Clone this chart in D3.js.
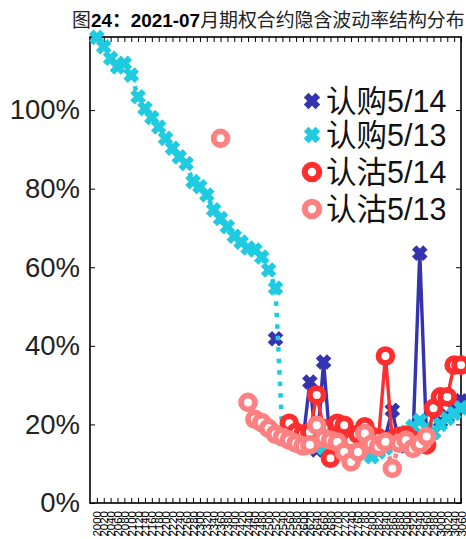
<!DOCTYPE html>
<html><head><meta charset="utf-8">
<script src="https://cdn.jsdelivr.net/npm/d3@7"></script>
<style>body{margin:0;background:#fff} svg{display:block}</style>
</head><body><svg id="c" width="466" height="539"></svg>
<script>
const categories = ["2000","2020","2040","2060","2080","2100","2120","2140","2160","2180",
  "2200","2220","2240","2260","2280","2300","2320","2340","2360","2380",
  "2400","2420","2440","2460","2480","2500","2520","2540","2560","2580",
  "2600","2620","2640","2660","2680","2700","2720","2740","2760","2780",
  "2800","2820","2840","2860","2880","2900","2920","2940","2960","2980",
  "3000","3020","3040","3060"];

const callIV0514 = [null,null,null,null,null,null,null,null,null,null,
  null,null,null,null,null,null,null,null,null,null,
  null,null,null,null,null,null,41.8,null,null,null,
  16,30.8,13.5,35.9,14,15,14.5,15.5,15,14.5,
  15.5,16,17,23.6,15,14.5,16,63.6,16,18,
  20.7,22,24,26];

const callIV0513 = [118.5,116.1,113.2,111.0,111.9,108.9,103.4,100.4,98.1,95.7,
  92.8,90.3,88.1,86.4,81.8,80.5,78.4,74.6,72.4,70.3,
  67.9,66.4,64.9,64.4,62.6,59.3,54.7,17.5,16.5,15.5,
  15,15,14.5,14,14,14,13.5,13,13,12.5,
  11.8,13,14,15,16.5,18,19.5,21,19,18,
  20,21.5,22.8,24.2];

const putIV0514 = [null,null,null,null,null,null,null,null,null,null,
  null,null,null,null,null,null,null,null,null,null,
  null,null,null,null,null,null,null,null,20.3,18,
  17.5,18,27.5,19,11.4,20.3,19.8,16,17.5,19.4,
  17,16.5,37.4,16,17,17.3,16,15.5,14.8,24.1,
  27,27,35.1,35.1];

const putIV0513 = [null,null,null,null,null,null,null,null,null,null,
  null,null,null,null,null,null,null,null,92.8,null,
  null,null,25.6,21.3,20.5,19,17.5,16.8,16,15.2,
  14.5,14.8,19.8,16.5,16,15.5,13,10.5,13,17.7,
  15,14.3,15.6,8.8,15.2,16,13.9,15,16.9,null,
  null,null,null,null];

const yTicks = [0,20,40,60,80,100];
const seriesNames = ["认购5/14","认购5/13","认沽5/14","认沽5/13"];
const seriesData = [callIV0514, callIV0513, putIV0514, putIV0513];
const titleParts = ["图", "24：2021-07", "月期权合约隐含波动率结构分布"];

const styles = [
  {color:"#3434ae", marker:"x", dash:null},
  {color:"#1ecbe1", marker:"x", dash:"4.5 7"},
  {color:"#ff2d2d", marker:"o", dash:null},
  {color:"#ff8080", marker:"o", dash:"4.5 7"}
];

const svg = d3.select("#c");
svg.append("rect").attr("width",466).attr("height",539).attr("fill","#fff");

const L = 90, R = 461, T = 37, B = 503;
const x = d3.scaleLinear().domain([0, categories.length]).range([L, R]);
const y = d3.scaleLinear().domain([0, 118.6]).range([B, T]);
const idx = d3.range(1, categories.length + 1);

// title
const title = svg.append("text").attr("x", 72).attr("y", 27)
  .attr("font-family", "'Liberation Sans','Noto Sans CJK SC',sans-serif")
  .attr("font-size", 18.9).attr("fill", "#222");
title.append("tspan").text(titleParts[0]);
title.append("tspan").attr("font-weight", "bold").attr("fill","#000").text(titleParts[1]);
title.append("tspan").text(titleParts[2]);

// axes
const axisFont = "'Liberation Sans',Arial,sans-serif";
const gl = svg.append("g").attr("transform", `translate(${L},0)`)
  .call(d3.axisLeft(y).tickValues(yTicks).tickSize(-5).tickPadding(10).tickFormat(d => d + "%"));
gl.select(".domain").remove();
gl.selectAll("text").attr("font-size", 27.5).attr("font-family", axisFont).attr("fill", "#222");

const gr = svg.append("g").attr("transform", `translate(${R},0)`)
  .call(d3.axisRight(y).tickValues(yTicks).tickSize(-5).tickFormat(""));
gr.select(".domain").remove();

const gt = svg.append("g").attr("transform", `translate(0,${T})`)
  .call(d3.axisTop(x).tickValues(idx).tickSize(-5).tickFormat(""));
gt.select(".domain").remove();

const gb = svg.append("g").attr("transform", `translate(0,${B})`)
  .call(d3.axisBottom(x).tickValues(idx).tickSize(-5).tickFormat(i => categories[i - 1]));
gb.select(".domain").remove();
gb.selectAll("text")
  .attr("transform", "rotate(-90)")
  .attr("text-anchor", "end")
  .attr("x", -8).attr("y", 0).attr("dy", "0.35em")
  .attr("font-size", 11.5).attr("font-family", axisFont).attr("fill", "#000");

svg.selectAll(".tick line").attr("stroke", "#000").attr("stroke-width", 1);

svg.append("rect").attr("x", L).attr("y", T).attr("width", R - L).attr("height", B - T)
  .attr("fill", "none").attr("stroke", "#000").attr("stroke-width", 1.6);

// series
function drawMarker(g, st, cx, cy, s) {
  s = s || 1;
  if (st.marker === "x") {
    const h = 5.6 * s;
    g.append("path").attr("d", `M${-h},${-h}L${h},${h}M${-h},${h}L${h},${-h}`)
      .attr("transform", `translate(${cx},${cy})`)
      .attr("stroke", st.color).attr("stroke-width", 6.2 * s).attr("fill", "none");
  } else {
    g.append("circle").attr("cx", cx).attr("cy", cy).attr("r", 6.9 * s)
      .attr("fill", "#fff").attr("stroke", st.color).attr("stroke-width", 5.8 * s);
  }
}

seriesData.forEach((vals, k) => {
  const st = styles[k];
  const g = svg.append("g");
  const pts = vals.map((v, i) => ({i: i + 1, v}));
  const line = d3.line().defined(d => d.v != null).x(d => x(d.i)).y(d => y(d.v));
  const p = g.append("path").attr("d", line(pts)).attr("fill", "none")
    .attr("stroke", st.color).attr("stroke-width", st.dash ? 4.5 : 3.4);
  if (st.dash) p.attr("stroke-dasharray", st.dash);
  pts.filter(d => d.v != null).forEach(d => drawMarker(g, st, x(d.i), y(d.v)));
});

// legend
const legY = [101, 135, 172, 209];
seriesNames.forEach((name, k) => {
  const g = svg.append("g");
  drawMarker(g, styles[k], 312, legY[k], 1.05);
  g.append("text").attr("x", 326).attr("y", legY[k]).attr("dy", "0.35em")
    .attr("font-family", "'Liberation Sans','Noto Sans CJK SC',sans-serif")
    .attr("font-size", 30.5).attr("fill", "#111").text(name);
});
</script></body></html>
